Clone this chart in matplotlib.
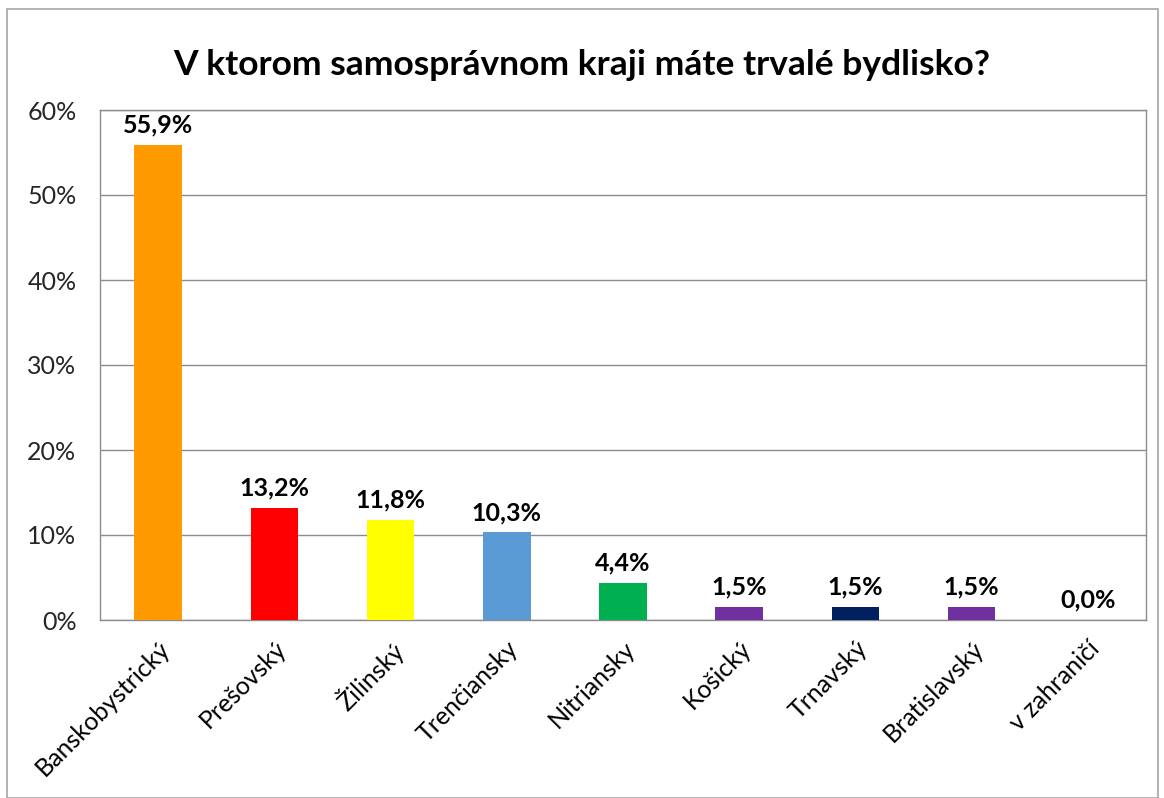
import matplotlib
matplotlib.use("Agg")
import matplotlib.pyplot as plt
from matplotlib.patches import Rectangle
from matplotlib.ticker import FuncFormatter

kraje = ["Banskobystrický", "Prešovský", "Žilinský", "Trenčiansky", "Nitriansky",
         "Košický", "Trnavský", "Bratislavský", "v zahraničí"]
podiel = [55.9, 13.2, 11.8, 10.3, 4.4, 1.5, 1.5, 1.5, 0.0]
farby = ["#FF9900", "#FF0000", "#FFFF00", "#5B9BD5", "#00B050",
         "#7030A0", "#002060", "#7030A0", "#7030A0"]

plt.rcParams['font.family'] = ['Lato', 'DejaVu Sans']

fig = plt.figure(figsize=(11.64, 7.98), dpi=100)
W, H = 1164, 798
ax = fig.add_axes([100 / W, 1 - 620 / H, (1146 - 100) / W, (620 - 110) / H])

x = range(len(kraje))
ax.bar(x, podiel, width=0.41, color=farby, zorder=3)
for i, v in enumerate(podiel):
    ax.text(i, v + 1.0, f"{v:.1f}%".replace(".", ","), ha="center", va="bottom",
            fontsize=18, fontweight="bold", color="#000000")

ax.set_xlim(-0.5, len(kraje) - 0.5)
ax.set_ylim(0, 60)
ax.set_yticks(range(0, 61, 10))
ax.yaxis.set_major_formatter(FuncFormatter(lambda v, p: f"{int(v)}%"))
ax.grid(axis="y", color="#8c8c8c", linewidth=1, zorder=0)
ax.set_xticks(list(x))
ax.set_xticklabels(kraje, rotation=45, ha="right", rotation_mode="anchor", fontsize=18)
ax.tick_params(axis="x", length=0, pad=12)
ax.tick_params(axis="y", length=0, pad=17, labelsize=18, labelcolor="#262626")
for s in ax.spines.values():
    s.set_color("#8c8c8c")
    s.set_linewidth(1)

fig.text(0.5, 1 - 65 / H, "V ktorom samosprávnom kraji máte trvalé bydlisko?",
         ha="center", va="center", fontsize=25.5, fontweight="bold")

fig.patches.append(Rectangle((7 / W, 0), (1158 - 7) / W, 1 - 9 / H, transform=fig.transFigure,
                             fill=False, edgecolor="#a6a6a6", linewidth=1.2))

fig.savefig("out.png", dpi=100)
